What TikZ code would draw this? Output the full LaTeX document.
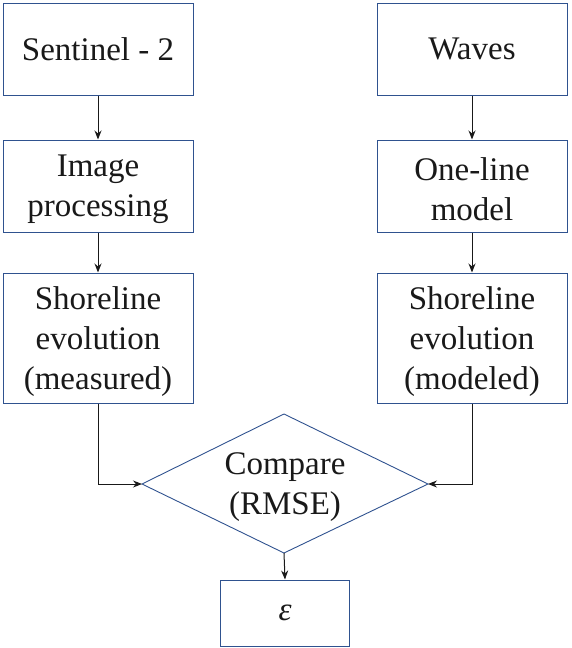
\documentclass[tikz,border=0pt]{standalone}
\usepackage{fontspec}
\setmainfont{Liberation Serif}
\usetikzlibrary{arrows.meta}
\definecolor{edgeblue}{RGB}{47,82,143}
\begin{document}
\begin{tikzpicture}[x=1pt,y=-1pt,
  every node/.style={font=\fontsize{33}{40}\selectfont, text=black!90, align=center, inner sep=0pt},
  stepbox/.style={draw=edgeblue, line width=1pt, rectangle, minimum width=190pt},
  flow/.style={draw=black!90, line width=1pt, -{Stealth[length=9pt,width=7pt]}}]
\useasboundingbox (0,0) rectangle (571,648);
\node[stepbox, minimum height=92pt] (s2) at (98,49) {Sentinel - 2};
\node[stepbox, minimum height=92pt] (ip) at (98,186) {};
\node (ipT) at ([yshift=-3pt]ip.center) {Image\\processing};
\node[stepbox, minimum height=130pt] (sm) at (98,338) {};
\node (smT) at ([yshift=-4pt]sm.center) {Shoreline\\evolution\\(measured)};
\node[stepbox, minimum height=92pt] (wv) at (472,49) {Waves};
\node[stepbox, minimum height=92pt] (ol) at (472,186) {};
\node (olT) at ([yshift=-3pt]ol.center) {One-line\\model};
\node[stepbox, minimum height=130pt] (smo) at (472,338) {};
\node (smoT) at ([yshift=-4pt]smo.center) {Shoreline\\evolution\\(modeled)};
% diamond corners
\coordinate (dT) at (284,414);
\coordinate (dL) at (142,484);
\coordinate (dB) at (284,553);
\coordinate (dR) at (428,484);
\draw[edgeblue, line width=0.9pt] (dT) -- (dR) -- (dB) -- (dL) -- cycle;
\node (cmp) at (285,487) {Compare\\(RMSE)};
\node[stepbox, minimum width=129pt, minimum height=66pt] (eps) at (285,613) {\textit{ε}};
\draw[flow] (s2) -- (ip);
\draw[flow] (ip) -- (sm);
\draw[flow] (wv) -- (ol);
\draw[flow] (ol) -- (smo);
\draw[flow] (sm.south) |- (dL);
\draw[flow] (smo.south) |- (dR);
\draw[flow] (dB) -- (eps.north);
\end{tikzpicture}
\end{document}
